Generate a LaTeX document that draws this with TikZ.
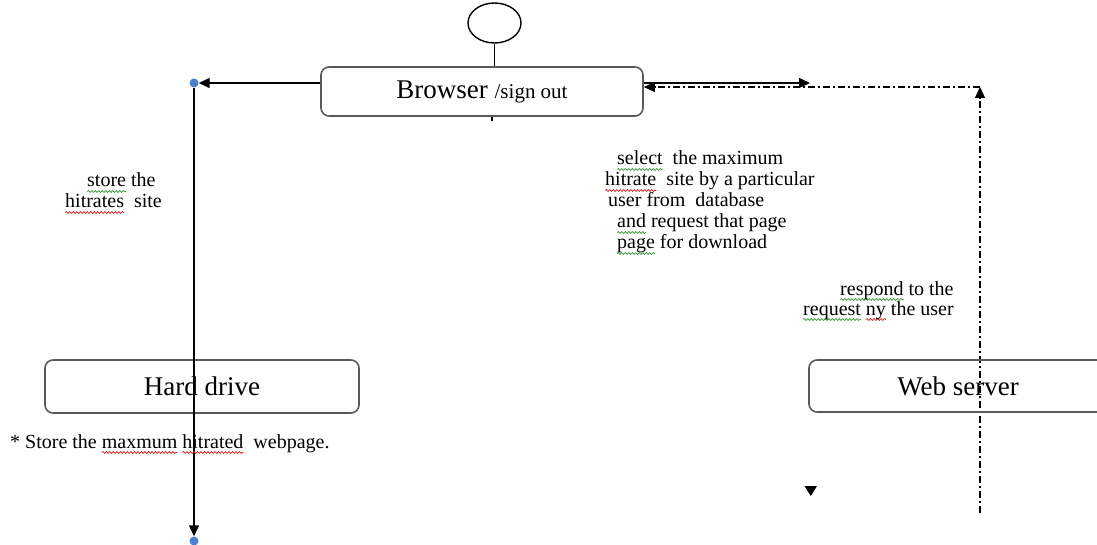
\documentclass[tikz,border=0pt]{standalone}
\usepackage{fontspec}
\setmainfont{Liberation Serif}
\usetikzlibrary{arrows.meta,shapes.geometric,decorations.pathmorphing}

\definecolor{boxgray}{HTML}{5A5A5A}
\definecolor{dotblue}{HTML}{4A7FD6}
\definecolor{spellred}{HTML}{E02020}
\definecolor{spellgreen}{HTML}{3A9A3A}

% wavy spell-check underline under a word
\newlength\squigw
\newcommand\squig[2]{\settowidth\squigw{#2}%
  \tikz[overlay, baseline=0pt, x=1pt, y=1pt]
    \draw[#1, line width=0.7pt, decorate,
          decoration={snake, amplitude=1pt, segment length=3.5pt}]
      (0,-4.5) -- (\squigw,-4.5);%
  #2}
\newcommand\redwave[1]{\squig{spellred}{#1}}
\newcommand\greenwave[1]{\squig{spellgreen}{#1}}

\tikzset{
  statebox/.style={draw=boxgray, line width=1.6pt, rounded corners=8pt, inner sep=0pt,
                   font=\fontsize{27}{30}\selectfont},
  % multi-line notes: the base anchor sits on the last line's baseline
  note/.style={anchor=base west, inner sep=0pt, align=left},
  flow/.style={line width=1.4pt, -{Triangle[length=11pt,width=10pt]}},
  dashdot/.style={line width=1.2pt, dash pattern=on 7pt off 3pt on 2pt off 3pt,
                  -{Triangle[length=11pt,width=10pt]}},
  bluedot/.style={circle, fill=dotblue, inner sep=0pt, minimum size=9pt},
}

\begin{document}
\begin{tikzpicture}[x=1pt,y=-1pt]
\useasboundingbox (0,0) rectangle (1097,545);

% initial state and browser
\node[ellipse, draw, line width=1.4pt, minimum width=53pt, minimum height=40pt, inner sep=0pt] (start) at (494.5,23) {};
\node[statebox, minimum width=322pt, minimum height=49pt] (browser) at (482,91.5)
  {Browser {\fontsize{21}{24}\selectfont /sign out}};
\draw[line width=1.4pt] (start.south) -- (start.south |- browser.north);
\coordinate (tick) at (492,121);
\draw[line width=1.4pt] (tick |- browser.south) -- (tick);

% left branch: store to hard drive
\node[bluedot] (d1) at (194,83) {};
\node[bluedot] (d2) at (194,541) {};
\node[statebox, minimum width=314pt, minimum height=53pt] (hdd) at (202,386.5) {Hard drive};
\draw[flow] (browser.west |- d1) -- (d1.east);
\draw[flow] (d1.south) -- (d2.north);

\node[note, font=\fontsize{20}{21}\selectfont] (storelbl) at (65,208)
  {\hspace*{22pt}\greenwave{store} the\\ \redwave{hitrates}\ \ site};
\node[note, font=\fontsize{20}{22}\selectfont] (hddlbl) at (10,448)
  {* Store the \redwave{maxmum} \redwave{hitrated}\ \ webpage.};

% right branch: request to web server
\coordinate (req) at (810,83);
\coordinate (corner) at (980,87);
\coordinate (bottom) at (980,513);
\draw[flow] (browser.east |- req) -- (req);
\draw[dashdot] (bottom) -- (corner);
\draw[dashdot] (corner) -- (browser.east |- corner);

\node[statebox, minimum width=298pt, minimum height=52pt] (server) at (958,386) {Web server};
\fill (804.5,486) -- (817,486) -- (810.75,496) -- cycle;

\node[note, font=\fontsize{20}{21}\selectfont] (selectlbl) at (605,249)
  {\hspace*{12pt}\greenwave{select}\ \ the maximum\\
   \redwave{hitrate}\ \ site by a particular\\
   \hspace*{3pt}user from\ \ database\\
   \hspace*{12pt}\greenwave{and} request that page\\
   \hspace*{12pt}\greenwave{page} for download};

\node[note, font=\fontsize{20}{20}\selectfont] (resplbl) at (803,315)
  {\hspace*{37pt}\greenwave{respond} to the\\
   \greenwave{request} \redwave{ny} the user};
\end{tikzpicture}
\end{document}
